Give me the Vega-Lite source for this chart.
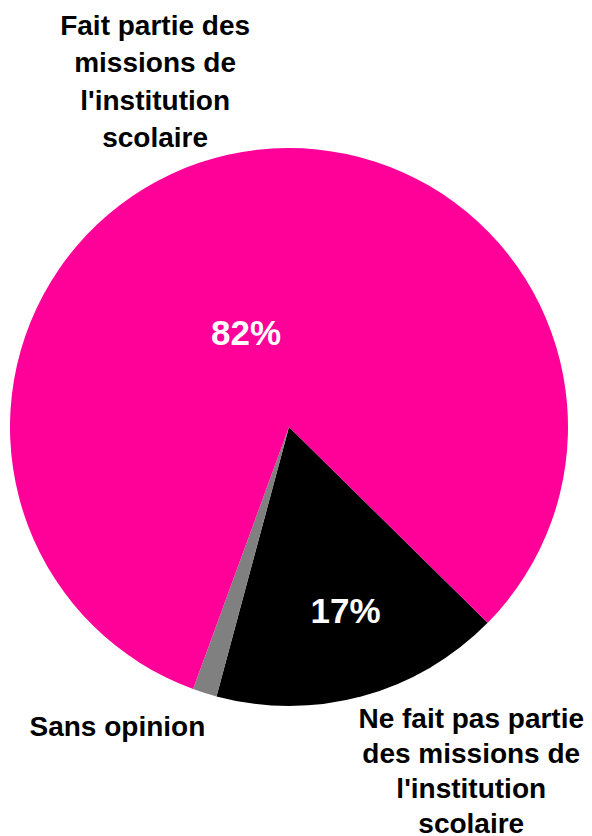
{
  "$schema": "https://vega.github.io/schema/vega-lite/v6.json",
  "width": 578,
  "height": 818,
  "autosize": "none",
  "padding": {"left": 0, "top": 18, "right": 14, "bottom": 0},
  "background": "white",
  "view": {"stroke": null},
  "config": {"font": "Liberation Sans"},
  "data": {
    "values": [
      {"cat": "Ne fait pas partie\ndes missions de\nl'institution\nscolaire", "value": 16.8, "order": 1, "pct": "17%"},
      {"cat": "Sans opinion", "value": 1.4, "order": 2, "pct": ""},
      {"cat": "Fait partie des\nmissions de\nl'institution\nscolaire", "value": 81.8, "order": 3, "pct": "82%"}
    ]
  },
  "encoding": {
    "theta": {"field": "value", "type": "quantitative", "stack": true, "scale": {"range": [2.349, 8.632]}},
    "order": {"field": "order", "type": "quantitative"}
  },
  "layer": [
    {
      "mark": {"type": "arc", "outerRadius": 279},
      "encoding": {
        "color": {
          "field": "order", "type": "nominal",
          "scale": {"domain": [1, 2, 3], "range": ["#000000", "#808080", "#FF0099"]},
          "legend": null
        }
      }
    },
    {
      "mark": {"type": "text", "radius": 100, "dx": -21, "dy": 5, "fontSize": 35, "fontWeight": "bold", "fill": "white", "align": "center", "baseline": "middle"},
      "encoding": {"text": {"condition": {"test": "datum.order === 3", "field": "pct"}, "value": ""}}
    },
    {
      "mark": {"type": "text", "radius": 193, "dx": 6, "dy": -1, "fontSize": 35, "fontWeight": "bold", "fill": "white", "align": "center", "baseline": "middle"},
      "encoding": {"text": {"condition": {"test": "datum.order === 1", "field": "pct"}, "value": ""}}
    },
    {
      "mark": {"type": "text", "radius": 360, "dx": -55, "dy": -49, "fontSize": 28, "fontWeight": "bold", "fill": "black", "align": "center", "baseline": "middle", "lineBreak": "\n", "lineHeight": 37.5},
      "encoding": {"text": {"condition": {"test": "datum.order === 3", "field": "cat"}, "value": ""}}
    },
    {
      "mark": {"type": "text", "radius": 360, "dx": 88, "dy": -54, "fontSize": 28, "fontWeight": "bold", "fill": "black", "align": "center", "baseline": "middle", "lineBreak": "\n", "lineHeight": 35},
      "encoding": {"text": {"condition": {"test": "datum.order === 1", "field": "cat"}, "value": ""}}
    },
    {
      "mark": {"type": "text", "radius": 300, "dx": -81, "dy": 15, "fontSize": 28, "fontWeight": "bold", "fill": "black", "align": "center", "baseline": "middle"},
      "encoding": {"text": {"condition": {"test": "datum.order === 2", "field": "cat"}, "value": ""}}
    }
  ]
}
